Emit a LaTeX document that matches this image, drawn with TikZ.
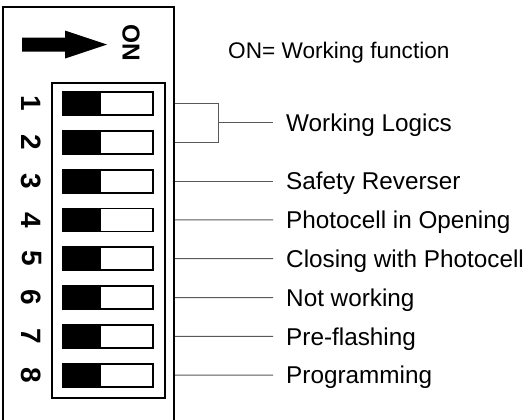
\documentclass[tikz,border=0pt]{standalone}
\usepackage{fontspec}
\setmainfont{Liberation Sans}
\begin{document}
\begin{tikzpicture}[x=1bp,y=-1bp,
  outerbox/.style={line width=1.3bp,draw=black},
  innerbox/.style={line width=1.8bp,draw=black},
  switchbox/.style={draw=black,line width=1.8bp,minimum width=90bp,minimum height=23bp,inner sep=0,
    path picture={\fill[black] (path picture bounding box.north west) rectangle ([xshift=38bp]path picture bounding box.south west);}},
  digit/.style={font=\fontsize{28bp}{28bp}\selectfont\bfseries,rotate=-90,inner sep=0},
  lab/.style={font=\fontsize{24.3bp}{26bp}\selectfont,anchor=west,inner sep=0,text height=17.4bp,text depth=0bp},
  conn/.style={draw=black!65,line width=1bp}]
\useasboundingbox (0,0) rectangle (526,419);
% outer board (open at the bottom)
\draw[outerbox] (3,420) -- (3,7) -- (174,7) -- (174,420);
% direction arrow and ON
\fill[black] (22,37.5) -- (65,37.5) -- (65,30.5) -- (107,44.5) -- (65,58.5) -- (65,51.5) -- (22,51.5) -- cycle;
\node[font=\fontsize{24.5bp}{24.5bp}\selectfont\bfseries,rotate=-90,inner sep=0] (on) at (131,43) {ON};
\node[font=\fontsize{22.6bp}{24bp}\selectfont,anchor=base west,inner sep=0] (legend) at (228,58) {ON= Working function};
% inner switch housing
\draw[innerbox] (52,83) rectangle (165,398);
% switches, numbers, labels
\foreach \i in {1,...,8}{
  \pgfmathsetmacro{\c}{103.5+38.8*(\i-1)}
  \node[switchbox] (sw\i) at (108,\c) {};
  \node[digit] (d\i) at (31.5,\c) {\i};
  \coordinate (e\i) at (175,\c);
}
\node[lab] (l1) at (286,122.9) {Working Logics};
\node[lab] (l3) at (286,181.1) {Safety Reverser};
\node[lab] (l4) at (286,219.9) {Photocell in Opening};
\node[lab] (l5) at (286,258.7) {Closing with Photocell};
\node[lab] (l6) at (286,297.5) {Not working};
\node[lab] (l7) at (286,336.3) {Pre-flashing};
\node[lab] (l8) at (286,375.1) {Programming};
% connectors
\coordinate (b) at (218,122.9);
\draw[conn] (e1) -- (e1 -| b) -- (e2 -| b) -- (e2);
\draw[conn] (b) -- ([xshift=-13bp]l1.west);
\foreach \i in {3,...,8}{
  \draw[conn] (e\i) -- ([xshift=-13bp]l\i.west);
}
\end{tikzpicture}
\end{document}
